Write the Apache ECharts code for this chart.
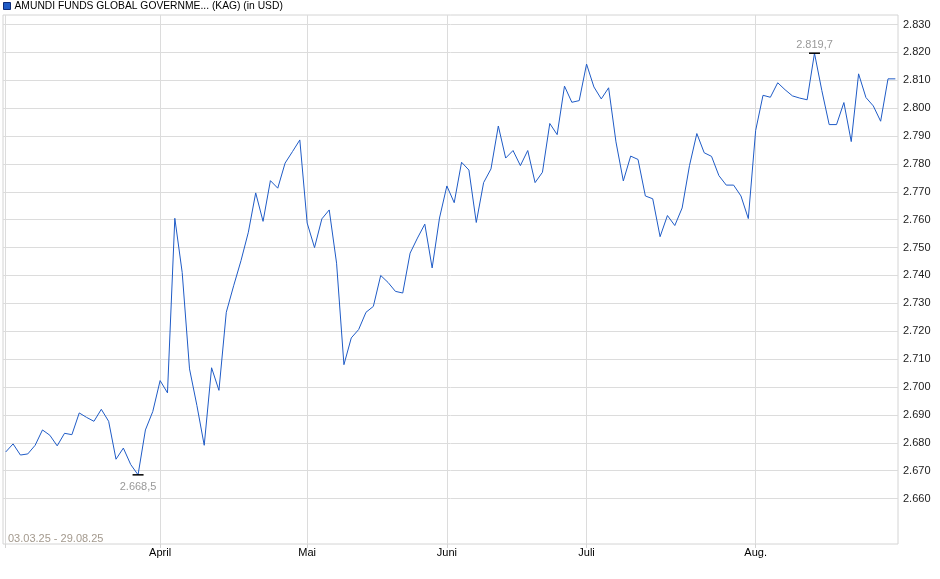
<!DOCTYPE html>
<html><head><meta charset="utf-8">
<script src="https://cdn.jsdelivr.net/npm/echarts@6/dist/echarts.min.js"></script>
<style>html,body{margin:0;padding:0;background:#fff}#c{width:940px;height:579px}</style>
</head><body><div id="c"></div>
<script>
const seriesName = 'AMUNDI FUNDS GLOBAL GOVERNME... (KAG) (in USD)';
const dateRange = '03.03.25 - 29.08.25';
const values = [
  2676.7, 2679.6, 2675.6, 2676.0, 2679.1, 2684.6, 2682.7, 2678.9, 2683.4, 2682.9,
  2690.7, 2689.1, 2687.7, 2692.0, 2687.7, 2674.1, 2678.1, 2672.2, 2668.5, 2684.6,
  2691.2, 2702.3, 2697.9, 2760.5, 2741.1, 2706.5, 2693.4, 2679.1, 2706.9, 2698.8,
  2726.8, 2736.3, 2745.3, 2755.5, 2769.6, 2759.4, 2774.0, 2771.3, 2780.3, 2784.4,
  2788.6, 2758.8, 2750.0, 2760.3, 2763.5, 2744.4, 2708.0, 2717.6, 2720.6, 2726.8,
  2728.9, 2740.0, 2737.5, 2734.3, 2733.7, 2748.0, 2753.4, 2758.4, 2742.7, 2760.6,
  2772.1, 2766.1, 2780.6, 2777.8, 2759.0, 2773.3, 2778.2, 2793.6, 2782.1, 2784.8,
  2779.4, 2784.8, 2773.3, 2777.0, 2794.5, 2790.5, 2807.9, 2802.1, 2802.7, 2815.8,
  2807.6, 2803.3, 2807.3, 2787.9, 2773.9, 2782.8, 2781.6, 2768.5, 2767.5, 2753.9,
  2761.5, 2757.9, 2764.2, 2779.4, 2790.9, 2784.0, 2782.7, 2775.8, 2772.4, 2772.4,
  2768.5, 2760.4, 2792.0, 2804.6, 2803.9, 2809.1, 2806.6, 2804.4, 2803.6, 2803.0,
  2819.7, 2806.3, 2794.1, 2794.1, 2802.0, 2788.0, 2812.3, 2803.8, 2800.8, 2795.3,
  2810.5, 2810.5
];
const monthStartIdx = [0, 21, 41, 60, 79, 102];
const monthLabels = ['', 'April', 'Mai', 'Juni', 'Juli', 'Aug.'];
const yTicks = [2660, 2670, 2680, 2690, 2700, 2710, 2720, 2730, 2740, 2750,
                2760, 2770, 2780, 2790, 2800, 2810, 2820, 2830];

const FONT = "'Liberation Sans', Arial, sans-serif";
function fmtTick(v) {
  const t = Math.floor(v / 1000), r = Math.round(v - t * 1000);
  return t + '.' + String(r).padStart(3, '0');
}
function fmtVal(v) {
  const t = Math.floor(v / 1000), r = (v - t * 1000).toFixed(1);
  return t + '.' + r.padStart(5, '0').replace('.', ',');
}

const chart = echarts.init(document.getElementById('c'), null, {renderer: 'canvas'});
chart.setOption({
  animation: false,
  textStyle: {fontFamily: FONT},
  legend: {
    show: true, left: 3, top: 0, padding: 0, icon: 'rect', itemWidth: 7, itemHeight: 7, itemGap: 5,
    selectedMode: false,
    itemStyle: {color: '#1f5bc6', borderColor: '#0c2a78', borderWidth: 1},
    textStyle: {fontSize: 10.3, lineHeight: 12, color: '#000', fontFamily: FONT, padding: [0, 0, 0, -1]},
    data: [seriesName]
  },
  grid: {left: 3, right: 42, top: 15, bottom: 35, show: true, borderColor: '#d4d4d4', borderWidth: 1, containLabel: false},
  xAxis: {
    type: 'value', min: -0.37, max: 121.36,
    axisLine: {show: false},
    axisTick: {show: true, length: 4, lineStyle: {color: '#d4d4d4'}, customValues: monthStartIdx},
    splitLine: {show: true, lineStyle: {color: '#dcdcdc', width: 1}},
    axisLabel: {
      customValues: monthStartIdx.slice(1), margin: 3, fontSize: 11, color: '#000', fontFamily: FONT,
      formatter: v => monthLabels[monthStartIdx.indexOf(Math.round(v))] || ''
    }
  },
  yAxis: {
    type: 'value', position: 'right', min: 2643.7, max: 2833.4, scale: true,
    axisLine: {show: false},
    axisTick: {show: false, customValues: yTicks},
    splitLine: {show: true, lineStyle: {color: '#dcdcdc', width: 1}},
    axisLabel: {customValues: yTicks, margin: 5, fontSize: 11, color: '#222', fontFamily: FONT, formatter: fmtTick}
  },
  graphic: [{
    type: 'text', left: 8, top: 533,
    style: {text: dateRange, fill: '#a3998d', fontSize: 11, fontFamily: FONT}
  }],
  series: [{
    name: seriesName, type: 'line', showSymbol: false,
    lineStyle: {color: '#1f5bc6', width: 1},
    itemStyle: {color: '#1f5bc6'},
    data: values.map((v, i) => [i, v]),
    markPoint: {
      symbol: 'rect', symbolSize: [11, 1.5],
      itemStyle: {color: '#000'},
      label: {show: true, fontSize: 11, color: '#999', fontFamily: FONT,
              formatter: p => fmtVal(p.value)},
      data: [
        {type: 'min', label: {position: 'bottom', distance: 6}},
        {type: 'max', label: {position: 'top', distance: 2}}
      ]
    }
  }]
});
</script></body></html>
